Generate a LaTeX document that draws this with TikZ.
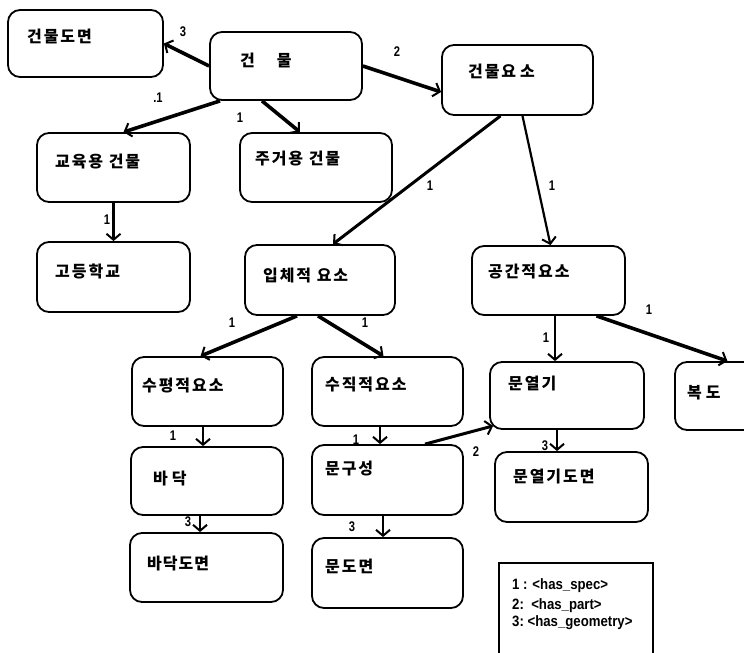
\documentclass[tikz,border=0pt]{standalone}
\usepackage{fontspec}
\usepackage{graphicx}
\usetikzlibrary{arrows.meta}
\newfontfamily\kr{Noto Sans CJK KR}[LetterSpace=12]
\newfontfamily\lab{Liberation Sans}
\newcommand\narrowtxt[1]{\scalebox{0.8}[1]{#1}}
\newcommand\legendtxt[1]{\scalebox{0.88}[1]{#1}}
\begin{document}
\begin{tikzpicture}[x=1pt,y=-1pt,
  box/.style={draw, line width=1.8pt, rounded corners=12pt, inner sep=0pt},
  legendbox/.style={draw, line width=1.6pt, inner sep=0pt},
  txt/.style={anchor=west, inner sep=0pt, font=\kr\bfseries\fontsize{16}{16}\selectfont},
  num/.style={inner sep=0pt, font=\lab\bfseries\fontsize{14}{14}\selectfont},
  legtxt/.style={anchor=west, inner sep=0pt, font=\lab\bfseries\fontsize{15}{15}\selectfont},
  tip/.style={-{Straight Barb[length=6pt,width=14pt,line width=2pt]}},
  arrT/.style={tip, line width=3.6pt},
  arrM/.style={tip, line width=3pt},
  arrS/.style={tip, line width=2.2pt}]
\useasboundingbox (0,0) rectangle (744,653);
\clip (0,0) rectangle (744,653);

% boxes
\node[box, minimum width=155pt, minimum height=67pt] (dwg) at (85.5,43.5) {};
\node[box, minimum width=152pt, minimum height=68pt] (bldg) at (286,66) {};
\node[box, minimum width=151pt, minimum height=70pt] (elem) at (517.5,80) {};
\node[box, minimum width=153pt, minimum height=69pt] (edu) at (113.5,167.5) {};
\node[box, minimum width=152pt, minimum height=69pt] (res) at (316,167.5) {};
\node[box, minimum width=153pt, minimum height=70pt] (high) at (113.5,277) {};
\node[box, minimum width=150pt, minimum height=70pt] (solid) at (320,280) {};
\node[box, minimum width=153pt, minimum height=69pt] (space) at (548.5,280.5) {};
\node[box, minimum width=151pt, minimum height=69pt] (horiz) at (207.5,391.5) {};
\node[box, minimum width=151pt, minimum height=69pt] (vert) at (387.5,391.5) {};
\node[box, minimum width=154pt, minimum height=67pt] (door) at (567,395.5) {};
\node[box, minimum width=95pt, minimum height=68pt] (corr) at (722.5,396) {};
\node[box, minimum width=152pt, minimum height=68pt] (floor) at (207,481) {};
\node[box, minimum width=151pt, minimum height=70pt] (doorc) at (387.5,480) {};
\node[box, minimum width=153pt, minimum height=70pt] (doordwg) at (571.5,487) {};
\node[box, minimum width=153pt, minimum height=69pt] (floordwg) at (206.5,567.5) {};
\node[box, minimum width=151pt, minimum height=70pt] (doorwdg) at (387.5,573) {};
\node[legendbox, minimum width=154pt, minimum height=92pt] (legend) at (576,609) {};

% texts
\node[txt] (tdwg) at (27,36) {건물도\hspace{2pt}면};
\node[txt] (tbldg) at (240,60) {건\hspace{22pt}물};
\node[txt] (telem) at (468,71) {건물요\hspace{4pt}소};
\node[txt] (tedu) at (55,162) {교육용 건물};
\node[txt] (tres) at (255,159) {주거용 건물};
\node[txt] (thigh) at (55,271) {고\hspace{2pt}등\hspace{2pt}학\hspace{2pt}교};
\node[txt] (tsolid) at (263,276) {입체적 요소};
\node[txt] (tspace) at (488,272) {공간적요소};
\node[txt] (thoriz) at (142,386) {수평적요소};
\node[txt] (tvert) at (325,385) {수직적요소};
\node[txt] (tdoor) at (508,383) {문\hspace{2pt}열\hspace{2pt}기};
\node[txt] (tcorr) at (687,393) {복\hspace{4pt}도};
\node[txt] (tfloor) at (153,479) {바\hspace{4pt}닥};
\node[txt] (tdoorc) at (325,469) {문구성};
\node[txt] (tdoordwg) at (513,476) {문열기도면};
\node[txt] (tfloordwg) at (147,563) {바\hspace{1pt}닥\hspace{1pt}도\hspace{1pt}면};
\node[txt] (tdoorwdg) at (325,566) {문\hspace{2pt}도\hspace{2pt}면};

% legend
\node[legtxt] (l1) at (512,586) {\legendtxt{1 : <has\_spec>}};
\node[legtxt] (l2) at (512,606) {\legendtxt{2:\ \ <has\_part>}};
\node[legtxt] (l3) at (512,623) {\legendtxt{3:\ <has\_geometry>}};

% connectors
\draw[arrT] (bldg.west) -- (dwg.east);
\draw[arrT] (bldg.east) -- ([yshift=-12pt]elem.west);
\draw[arrT] ([xshift=-66pt]bldg.south) -- ([xshift=10pt]edu.north);
\draw[arrT] ([xshift=-24pt]bldg.south) -- ([xshift=-16pt]res.north);
\draw[arrM] ([xshift=-17pt]elem.south) -- ([xshift=13pt]solid.north);
\draw[arrS] ([xshift=5pt]elem.south) -- ([xshift=2pt]space.north);
\draw[arrS] (edu.south) -- (high.north);
\draw[arrT] ([xshift=-23pt]solid.south) -- ([xshift=-7pt]horiz.north);
\draw[arrT] ([xshift=-2pt]solid.south) -- ([xshift=-4pt]vert.north);
\draw[arrS] ([xshift=6.5pt]space.south) -- ([xshift=-12pt]door.north);
\draw[arrT] ([xshift=48pt]space.south) -- ([xshift=5pt]corr.north);
\draw[arrS] ([xshift=-4.5pt]horiz.south) -- ([xshift=-4pt]floor.north);
\draw[arrS] ([xshift=-7.5pt]vert.south) -- ([xshift=-7.5pt]doorc.north);
\draw[arrM] ([xshift=37.5pt]doorc.north) -- ([xshift=4pt,yshift=4pt]door.south west);
\draw[arrS] ([xshift=-10pt]door.south) -- ([xshift=-14.5pt]doordwg.north);
\draw[arrS] ([xshift=-7pt]floor.south) -- ([xshift=-6.5pt]floordwg.north);
\draw[arrS] ([xshift=-4.5pt]doorc.south) -- ([xshift=-4.5pt]doorwdg.north);

% connector labels
\node[num] (n1) at (183,32) {\narrowtxt{3}};
\node[num] (n2) at (397,52) {\narrowtxt{2}};
\node[num] (n3) at (158,98) {\narrowtxt{.1}};
\node[num] (n4) at (240,118) {\narrowtxt{1}};
\node[num] (n5) at (430,186) {\narrowtxt{1}};
\node[num] (n6) at (552,186) {\narrowtxt{1}};
\node[num] (n7) at (107,220) {\narrowtxt{1}};
\node[num] (n8) at (232,323) {\narrowtxt{1}};
\node[num] (n9) at (365,323) {\narrowtxt{1}};
\node[num] (n10) at (649,310) {\narrowtxt{1}};
\node[num] (n11) at (546,338) {\narrowtxt{1}};
\node[num] (n12) at (173,436) {\narrowtxt{1}};
\node[num] (n13) at (356,440) {\narrowtxt{1}};
\node[num] (n14) at (476,452) {\narrowtxt{2}};
\node[num] (n15) at (545,446) {\narrowtxt{3}};
\node[num] (n16) at (188,522) {\narrowtxt{3}};
\node[num] (n17) at (352,527) {\narrowtxt{3}};
\end{tikzpicture}
\end{document}
